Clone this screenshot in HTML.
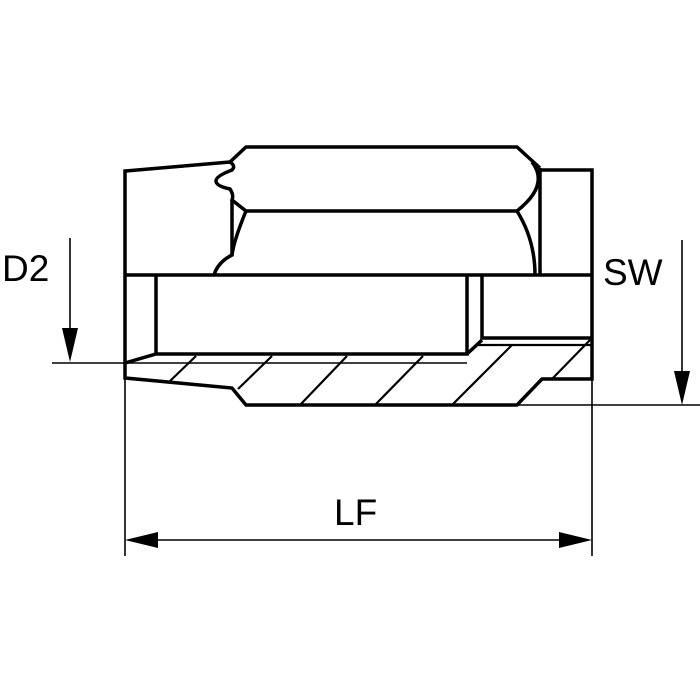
<!DOCTYPE html>
<html><head><style>html,body{margin:0;padding:0;background:#fff;}svg{display:block}</style></head>
<body>
<svg width="700" height="700" viewBox="0 0 700 700" xmlns="http://www.w3.org/2000/svg">
<rect width="700" height="700" fill="#fff"/>
<g fill="none" stroke="#000" stroke-width="3.5" stroke-linejoin="miter">
  <!-- left body -->
  <polyline points="230,162 125,171 125,378 232,388 246,405 517,405 542,379 592,379 592,170 540,170"/>
  <!-- hex -->
  <polyline points="230,162 246,147 517,147 540,168"/>
  <path d="M230,162 Q236,166 232,170 Q216,176 216,181 Q216,186 230,189 Q234,195 232,200 L246,211 L517,211"/>
  <path d="M232,200 L232,255 Q218,262 214,275"/>
  <path d="M246,211 Q234,240 232,255"/>
  <path d="M532,162 Q550,185 517,211 Q535,240 535,275"/>
  <line x1="540" y1="168" x2="540" y2="275"/>
  <!-- bore -->
  <line x1="125" y1="275" x2="592" y2="275"/>
  <line x1="156" y1="275" x2="156" y2="354"/>
  <polyline points="125,363 156,354 467,354 467,275"/>
  <polyline points="482,275 482,338 592,338"/>
  <line x1="467" y1="354" x2="482" y2="340"/>
</g>
<g stroke="#000" stroke-width="2.2" fill="none">
  <line x1="478" y1="345" x2="592" y2="345"/>
  <line x1="170" y1="381" x2="196" y2="356"/>
  <line x1="238" y1="389" x2="272" y2="356"/>
  <line x1="300" y1="405" x2="347" y2="356"/>
  <line x1="375" y1="405" x2="423" y2="356"/>
  <line x1="452" y1="405" x2="512" y2="345"/>
  <line x1="552" y1="379" x2="590" y2="340"/>
</g>
<g stroke="#000" stroke-width="1.6" fill="none">
  <line x1="52" y1="363" x2="467" y2="363"/>
  <line x1="70" y1="238" x2="70" y2="335"/>
  <line x1="517" y1="405" x2="700" y2="405"/>
  <line x1="682" y1="240" x2="682" y2="378"/>
  <line x1="125" y1="378" x2="125" y2="556"/>
  <line x1="592" y1="379" x2="592" y2="556"/>
  <line x1="150" y1="540" x2="567" y2="540"/>
</g>
<g fill="#000">
  <polygon points="62,328 78,328 70,362"/>
  <polygon points="674,371 690,371 682,405"/>
  <polygon points="125,540 158,532 158,548"/>
  <polygon points="592,540 559,532 559,548"/>
</g>
<g font-family="Liberation Sans, sans-serif" font-size="37" fill="#000">
  <text x="2" y="281">D2</text>
  <text x="603" y="285">SW</text>
  <text x="334" y="525">LF</text>
</g>
</svg>
</body></html>
